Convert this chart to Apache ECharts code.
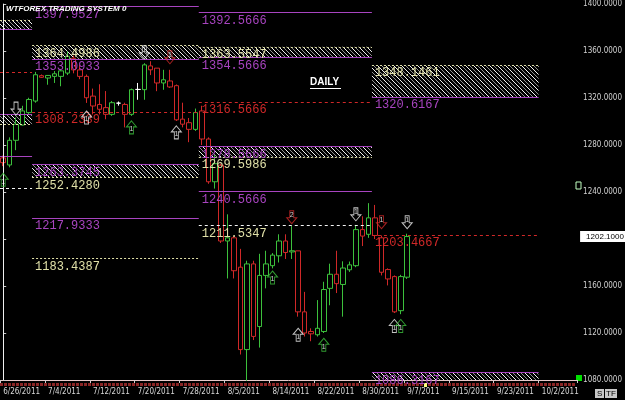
<!DOCTYPE html>
<html>
<head>
<meta charset="utf-8">
<script src="https://cdn.jsdelivr.net/npm/echarts@6/dist/echarts.min.js"></script>
<style>
html, body { margin: 0; padding: 0; background: #000; }
#chart { width: 625px; height: 400px; }
</style>
</head>
<body>
<div id="chart"></div>
<script>
// trading days (Sun-Fri session bars), label every 7th
const dates = [
  '6/26/2011', '6/27/2011', '6/28/2011', '6/29/2011', '6/30/2011', '7/1/2011', '7/3/2011',
  '7/4/2011', '7/5/2011', '7/6/2011', '7/7/2011', '7/8/2011', '7/10/2011', '7/11/2011',
  '7/12/2011', '7/13/2011', '7/14/2011', '7/15/2011', '7/17/2011', '7/18/2011', '7/19/2011',
  '7/20/2011', '7/21/2011', '7/22/2011', '7/24/2011', '7/25/2011', '7/26/2011', '7/27/2011',
  '7/28/2011', '7/29/2011', '7/31/2011', '8/1/2011', '8/2/2011', '8/3/2011', '8/4/2011',
  '8/5/2011', '8/7/2011', '8/8/2011', '8/9/2011', '8/10/2011', '8/11/2011', '8/12/2011',
  '8/14/2011', '8/15/2011', '8/16/2011', '8/17/2011', '8/18/2011', '8/19/2011', '8/21/2011',
  '8/22/2011', '8/23/2011', '8/24/2011', '8/25/2011', '8/26/2011', '8/28/2011', '8/29/2011',
  '8/30/2011', '8/31/2011', '9/1/2011', '9/2/2011', '9/4/2011', '9/5/2011', '9/6/2011',
  '9/7/2011', '9/8/2011', '9/9/2011', '9/11/2011', '9/12/2011', '9/13/2011', '9/14/2011',
  '9/15/2011', '9/16/2011', '9/18/2011', '9/19/2011', '9/20/2011', '9/21/2011', '9/22/2011',
  '9/23/2011', '9/25/2011', '9/26/2011', '9/27/2011', '9/28/2011', '9/29/2011', '9/30/2011',
  '10/2/2011', '10/3/2011', '10/4/2011', '10/5/2011', '10/6/2011', '10/7/2011'
]

const opens = [1269, 1263, 1284, 1297, 1307.6, 1317.4, 1339, 1337, 1338.4, 1338.4, 1341.2, 1353.8,
  1343.9, 1338.4, 1321.6, 1314.5, 1311.8, 1306.1, 1315.6, 1314.5, 1306.1, 1327.3, 1327.1, 1347.3,
  1345.4, 1332.8, 1334.5, 1330.5, 1302, 1299, 1293.3, 1309, 1285.1, 1248.7, 1262.8, 1198.3, 1201,
  1176, 1105.9, 1178.8, 1125.5, 1169, 1177.3, 1185.7, 1198.3, 1189, 1189.9, 1138, 1121.3, 1118.5,
  1121.3, 1158, 1170, 1161.3, 1173.8, 1177.3, 1208, 1204, 1218, 1201, 1174, 1168, 1139, 1167.5]
const closes = [1265, 1284, 1297.7, 1309, 1318.7, 1339.8, 1337.6, 1339.2, 1340.6, 1343.1, 1355.5, 1343.9,
  1338.4, 1320.2, 1313.2, 1310.4, 1306.1, 1316, 1315.6, 1306.1, 1327.1, 1327.3, 1348.2, 1344,
  1332.8, 1335.5, 1329.4, 1301.4, 1297.7, 1293.3, 1307.6, 1285.1, 1248.7, 1264.1, 1198.3, 1201, 1173,
  1105.9, 1178.8, 1117.1, 1169, 1178.8, 1186.3, 1198.3, 1188.5, 1190, 1138, 1120, 1119.3, 1124,
  1157, 1170, 1162, 1175.3, 1178, 1208, 1202.5, 1218, 1203, 1171.7, 1166, 1138, 1168, 1202.1]
const lows = [1262, 1261, 1275.6, 1296.6, 1306, 1316, 1337, 1331.3, 1332.8, 1330, 1339.5, 1341,
  1336, 1315.8, 1306, 1306, 1301.9, 1304.8, 1313.5, 1295, 1304.8, 1318.5, 1318.5, 1339.5,
  1325.8, 1327, 1328.6, 1300.5, 1295, 1282.4, 1292, 1280, 1247, 1242.9, 1196.6, 1166.4, 1166.4,
  1101.7, 1079.3, 1114, 1107.6, 1158, 1175, 1180, 1183, 1183, 1133.9, 1117, 1113, 1117,
  1120, 1143.6, 1154, 1133.9, 1172, 1176, 1194, 1201, 1200, 1169, 1160.5, 1137, 1136, 1166]
const highs = [1271, 1286.5, 1303.4, 1313.4, 1320.2, 1342.2, 1340, 1339.5, 1342.9, 1344, 1359.7, 1356,
  1348, 1340, 1328, 1331.7, 1325.9, 1317.4, 1317, 1316, 1328, 1332.8, 1349.6, 1351.3,
  1345.4, 1344, 1344, 1331.5, 1316, 1303, 1311, 1313.4, 1286.5, 1271.4, 1264, 1221, 1202.5,
  1191.6, 1181.5, 1181.5, 1187.4, 1190, 1188, 1204, 1204, 1211, 1190, 1155, 1124, 1148,
  1163.6, 1179, 1190, 1181, 1180.8, 1212, 1219.3, 1230.5, 1229, 1203, 1175, 1169, 1169.5, 1204.5]
const dojiBars = [18, 21]

const yTicks = { min: 1080, max: 1400, step: 40 }

// pivot period edges (value-axis index units)
const periodEdges = [-0.5, 4.5, 30.5, 57.5, 83.5]

// [period, price, kind, text]  kind: r = resistance/support, y = zone edge, p = pivot, w = extra
const levels = [
  [0, 1386.5, 'y', ''], [0, 1378.2, 'r', ''], [0, 1342, 'p', ''], [0, 1306, 'r', ''],
  [0, 1297.5, 'y', ''], [0, 1270.3, 'r', ''], [0, 1243, 'w', ''],
  [1, 1397.9527, 'r', '1397.9527'], [1, 1364.4986, 'y', '1364.4986'], [1, 1353.0933, 'r', '1353.0933'],
  [1, 1308.2339, 'p', '1308.2339'], [1, 1263.3745, 'r', '1263.3745'], [1, 1252.428, 'y', '1252.4280'],
  [1, 1217.9333, 'r', '1217.9333'], [1, 1183.4387, 'y', '1183.4387'],
  [2, 1392.5666, 'r', '1392.5666'], [2, 1363.5547, 'y', '1363.5547'], [2, 1354.5666, 'r', '1354.5666'],
  [2, 1316.5666, 'p', '1316.5666'], [2, 1278.5666, 'r', '1278.5666'], [2, 1269.5986, 'y', '1269.5986'],
  [2, 1240.5666, 'r', '1240.5666'], [2, 1211.5347, 'w', '1211.5347'],
  [3, 1348.1461, 'y', '1348.1461'], [3, 1320.6167, 'r', '1320.6167'], [3, 1203.4667, 'p', '1203.4667'],
  [3, 1086.3167, 'r', '1086.3167']
]

// hatched zones [period, low, high]
const zones = [
  [0, 1378.2, 1386.5], [0, 1297.5, 1306],
  [1, 1353.0933, 1364.4986], [1, 1252.428, 1263.3745],
  [2, 1354.5666, 1363.5547], [2, 1269.5986, 1278.5666],
  [3, 1320.6167, 1348.1461], [3, 1070, 1086.3167]
]

// signal arrows
const arrowBar = [0, 2, 13, 20, 22, 26, 27, 42, 45, 46, 50, 55, 59, 61, 62, 63]
const arrowPrice = [1250.4, 1311, 1303.4, 1295, 1358.8, 1354.6, 1290.8, 1167.2, 1218.5, 1118.5, 1110, 1221, 1214.3, 1126, 1126, 1214.3]
const arrowDir = ['up', 'down', 'up', 'up', 'down', 'down', 'up', 'up', 'down', 'up', 'up', 'down', 'down', 'up', 'up', 'down']
const arrowColor = ['g', 'w', 'w', 'g', 'w', 'r', 'w', 'g', 'r', 'w', 'g', 'w', 'r', 'w', 'g', 'w']
const arrowText = ['1', '', '1', '1', '1', '1', '1', '1', '2', '1', '1', '1', '1', '1', '1', '1']

const GREEN = '#3cc03c'
const RED = '#d02828'
const PURPLE = '#a844c0'
const PALE = '#e0e0a8'

const hatch = document.createElement('canvas')
hatch.width = 8
hatch.height = 8
const hc = hatch.getContext('2d')
hc.fillStyle = '#000'
hc.fillRect(0, 0, 8, 8)
hc.lineWidth = 1
for (const k of [-8, 0, 8]) {
  hc.strokeStyle = '#f0f0f0'
  hc.beginPath(); hc.moveTo(k, 0); hc.lineTo(k + 8, 8); hc.stroke()
  hc.strokeStyle = '#909090'
  hc.beginPath(); hc.moveTo(k + 4, 0); hc.lineTo(k + 12, 8); hc.stroke()
}

const kindStyle = {
  r: { line: { color: PURPLE, type: 'solid', width: 1 }, text: PURPLE },
  y: { line: { color: PALE, type: [2, 2], width: 1 }, text: PALE },
  p: { line: { color: RED, type: [3, 3], width: 1 }, text: RED },
  w: { line: { color: '#f4f4f4', type: [3, 3], width: 1 }, text: PALE },
}

const levelLines = levels.map(([p, price, kind, text]) => [
  {
    coord: [periodEdges[p], price],
    lineStyle: kindStyle[kind].line,
    label: {
      show: text !== '',
      formatter: text,
      position: 'insideStartBottom',
      distance: [3, 2],
      color: kindStyle[kind].text,
      fontFamily: 'Liberation Mono',
      fontSize: 12,
    },
  },
  { coord: [periodEdges[p + 1], price] },
])

const zoneAreas = zones.map(([p, lo, hi]) => [
  { coord: [periodEdges[p], hi] },
  { coord: [periodEdges[p + 1], lo] },
])

const candleData = opens.map((o, i) => {
  const item = { value: [o, closes[i], lows[i], highs[i]] }
  if (dojiBars.includes(i)) item.itemStyle = { borderColor: '#fff', borderColor0: '#fff' }
  return item
})

const arrowColors = { g: GREEN, w: '#f0f0f0', r: RED }
const upPath = 'path://M5,0 L10,6 L7,6 L7,13 L3,13 L3,6 L0,6 Z'
const downPath = 'path://M3,0 L7,0 L7,7 L10,7 L5,13 L0,7 L3,7 Z'
const arrowData = arrowBar.map((b, i) => ({
  value: [b, arrowPrice[i]],
  symbol: arrowDir[i] === 'up' ? upPath : downPath,
  itemStyle: { color: 'rgba(0,0,0,0)', borderColor: arrowColors[arrowColor[i]], borderWidth: 1 },
  label: {
    formatter: arrowText[i],
    offset: [0, arrowDir[i] === 'up' ? 2 : -2],
  },
}))

const lastClose = closes[closes.length - 1]

const chart = echarts.init(document.getElementById('chart'))
chart.setOption({
  backgroundColor: '#000',
  animation: false,
  grid: { left: 0, right: 44, top: 0, bottom: 20 },
  xAxis: [
    {
      type: 'category',
      data: dates,
      boundaryGap: true,
      axisLine: { show: true, lineStyle: { color: '#e8c8c8' } },
      axisTick: { show: true, interval: 6, length: 3, lineStyle: { color: '#d0d0d0' } },
      axisLabel: {
        interval: 6,
        color: '#d8d8d8',
        fontSize: 8,
        fontFamily: 'Liberation Sans Narrow, DejaVu Sans Condensed, Liberation Sans',
        align: 'left',
        margin: 8,
      },
      splitLine: { show: false },
    },
    { type: 'value', min: -0.5, max: dates.length - 0.5, show: false },
  ],
  yAxis: {
    type: 'value',
    position: 'right',
    min: yTicks.min,
    max: yTicks.max,
    interval: yTicks.step,
    axisLine: { show: true, lineStyle: { color: '#c8c8c8' } },
    axisTick: { show: true, length: 3, lineStyle: { color: '#c8c8c8' } },
    axisLabel: {
      color: '#d0d0d0',
      fontSize: 8,
      fontFamily: 'Liberation Sans Narrow, DejaVu Sans Condensed, Liberation Sans',
      margin: 6,
      formatter: (v) => v.toFixed(4),
    },
    splitLine: { show: false },
  },
  series: [
    {
      type: 'line',
      xAxisIndex: 1,
      data: [],
      clip: true,
      markArea: {
        silent: true,
        itemStyle: { color: { image: hatch, repeat: 'repeat' } },
        data: zoneAreas,
      },
      markLine: {
        silent: true,
        symbol: ['none', 'none'],
        data: levelLines,
      },
    },
    {
      type: 'candlestick',
      data: candleData,
      barWidth: 5,
      itemStyle: {
        color: '#000',
        color0: '#000',
        borderColor: GREEN,
        borderColor0: RED,
        borderWidth: 1,
      },
      markLine: {
        silent: true,
        symbol: ['none', 'none'],
        data: [
          {
            xAxis: dates[0],
            lineStyle: { color: '#f0f0f0', type: 'solid', width: 1 },
            label: { show: false },
          },
          {
            yAxis: lastClose,
            lineStyle: { width: 0 },
            label: {
              position: 'end',
              distance: 3,
              formatter: lastClose.toFixed(4),
              backgroundColor: '#fff',
              color: '#000',
              fontSize: 8,
              fontFamily: 'Liberation Sans',
              padding: [2, 6, 1, 6],
            },
          },
        ],
      },
    },
    {
      type: 'scatter',
      data: arrowData,
      symbolSize: [10, 13],
      label: {
        show: true,
        position: 'inside',
        color: '#fff',
        fontSize: 7,
        fontFamily: 'Liberation Sans',
      },
      z: 5,
    },
  ],
  graphic: [
    {
      type: 'text', left: 6, top: 5, z: 10,
      style: { text: 'WTFOREX TRADING SYSTEM 0', fill: '#fff', fontSize: 8, fontWeight: 'bold', fontStyle: 'italic', fontFamily: 'Liberation Sans' },
    },
    {
      type: 'text', left: 310, top: 77,
      style: { text: 'DAILY', fill: '#fff', fontSize: 10, fontWeight: 'bold', fontFamily: 'Liberation Sans' },
    },
    { type: 'line', shape: { x1: 310, y1: 88.5, x2: 341, y2: 88.5 }, style: { stroke: '#fff', lineWidth: 1 } },
    { type: 'line', shape: { x1: 0, y1: 384.5, x2: 575, y2: 384.5 }, style: { stroke: '#8a2424', lineWidth: 3, lineDash: [3, 1] } },
    { type: 'rect', shape: { x: 424, y: 383, width: 3, height: 4 }, style: { fill: '#ffff80' } },
    { type: 'rect', shape: { x: 576, y: 375, width: 6, height: 6 }, style: { fill: '#00e000' } },
    { type: 'rect', shape: { x: 576, y: 182, width: 5, height: 7 }, style: { fill: '#000', stroke: '#c0ffc0', lineWidth: 1 } },
    { type: 'rect', shape: { x: 595, y: 389, width: 9, height: 9 }, style: { fill: '#c8c8c8' } },
    { type: 'text', left: 597, top: 390, style: { text: 'S', fill: '#000', fontSize: 8, fontFamily: 'Liberation Sans' } },
    { type: 'rect', shape: { x: 605, y: 389, width: 12, height: 9 }, style: { fill: '#c8c8c8' } },
    { type: 'text', left: 606, top: 390, style: { text: 'TF', fill: '#000', fontSize: 8, fontFamily: 'Liberation Sans' } },
  ],
})
</script>
</body>
</html>
